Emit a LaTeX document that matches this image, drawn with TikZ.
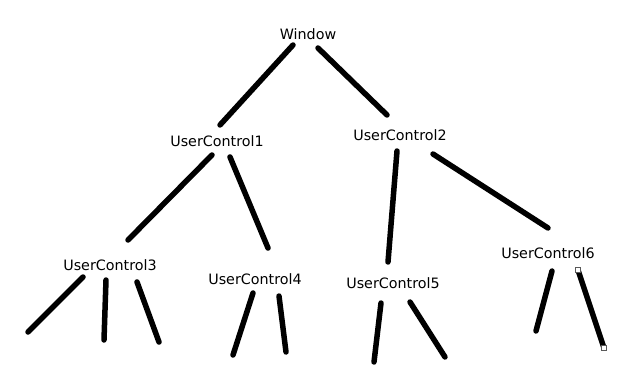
\documentclass[tikz,border=0pt]{standalone}
\usepackage{fontspec}
\setmainfont{DejaVu Sans}
\begin{document}
\begin{tikzpicture}[x=1pt,y=-1pt,
  lbl/.style={inner sep=0pt,font=\fontsize{14.3}{16}\selectfont},
  edge/.style={line width=5.5pt,line cap=round},
  handle/.style={draw=gray!70!black,fill=white,line width=0.6pt,minimum size=5pt,inner sep=0pt}]
\useasboundingbox[fill=white] (0,0) rectangle (621,377);
% labels
\node[lbl] (w) at (308,34) {Window};
\node[lbl] (u1) at (217,141) {UserControl1};
\node[lbl] (u2) at (400,135) {UserControl2};
\node[lbl] (u3) at (110,265) {UserControl3};
\node[lbl] (u4) at (255,279) {UserControl4};
\node[lbl] (u5) at (393,283) {UserControl5};
\node[lbl] (u6) at (548,253) {UserControl6};
% connector ends
\coordinate (w1) at (293,45);  \coordinate (u1t) at (220,125);
\coordinate (w2) at (318,48);  \coordinate (u2t) at (387,115);
\coordinate (a13) at (212,155); \coordinate (u3t) at (128,240);
\coordinate (a14) at (230,157); \coordinate (u4t) at (268,248);
\coordinate (a25) at (397,151); \coordinate (u5t) at (388,262);
\coordinate (a26) at (433,154); \coordinate (u6t) at (548,228);
\coordinate (c3a) at (83,277);  \coordinate (e3a) at (28,332);
\coordinate (c3b) at (106,280); \coordinate (e3b) at (104,340);
\coordinate (c3c) at (137,282); \coordinate (e3c) at (159,342);
\coordinate (c4a) at (253,293); \coordinate (e4a) at (233,355);
\coordinate (c4b) at (279,296); \coordinate (e4b) at (286,352);
\coordinate (c5a) at (381,303); \coordinate (e5a) at (374,362);
\coordinate (c5b) at (410,302); \coordinate (e5b) at (445,357);
\coordinate (c6a) at (552,271); \coordinate (e6a) at (536,331);
\coordinate (c6b) at (578,270); \coordinate (e6b) at (604,348);
% connectors
\draw[edge] (w1) -- (u1t);
\draw[edge] (w2) -- (u2t);
\draw[edge] (a13) -- (u3t);
\draw[edge] (a14) -- (u4t);
\draw[edge] (a25) -- (u5t);
\draw[edge] (a26) -- (u6t);
\draw[edge] (c3a) -- (e3a);
\draw[edge] (c3b) -- (e3b);
\draw[edge] (c3c) -- (e3c);
\draw[edge] (c4a) -- (e4a);
\draw[edge] (c4b) -- (e4b);
\draw[edge] (c5a) -- (e5a);
\draw[edge] (c5b) -- (e5b);
\draw[edge] (c6a) -- (e6a);
\draw[edge] (c6b) -- (e6b);
\node[handle] (h1) at (c6b) {};
\node[handle] (h2) at (e6b) {};
\end{tikzpicture}
\end{document}
